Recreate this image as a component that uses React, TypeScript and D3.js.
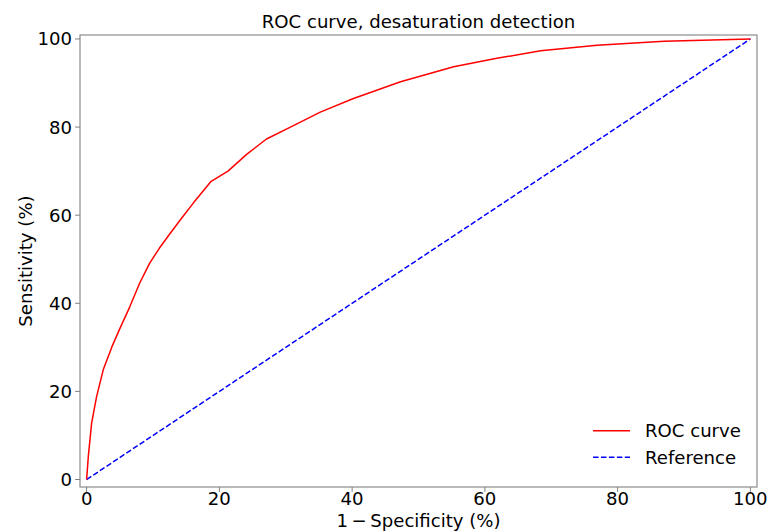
import React from "react";
import * as d3 from "d3";

const fpr = [0, 0.25, 0.75, 1.5, 2.5, 3.8, 4.9, 6.5, 8, 9.5, 11, 12.6, 14.3, 16.1, 18.7, 21.3, 24.1, 27.1, 30.7, 35.2, 40.2, 47.3, 55.3, 61.8, 68.4, 76.9, 87, 100];
const tpr = [0, 5.2, 12.8, 18.8, 24.9, 30.1, 33.9, 39.2, 44.6, 49.1, 52.6, 55.9, 59.3, 62.8, 67.6, 70, 73.8, 77.3, 80, 83.4, 86.5, 90.3, 93.7, 95.6, 97.3, 98.6, 99.5, 100];
const refX = [0, 100];
const refY = [0, 100];
const xTicks = [0, 20, 40, 60, 80, 100];
const yTicks = [0, 20, 40, 60, 80, 100];
const legendLabels = ["ROC curve", "Reference"];

const W = 769;
const H = 532;
const left = 80, right = 757, top = 35, bottom = 487;
const FONT = "DejaVu Sans, sans-serif";
const FS = 18.1;

export default function App() {
  const x = d3.scaleLinear().domain([-1, 101]).range([left, right]);
  const y = d3.scaleLinear().domain([-1.7, 100.9]).range([bottom, top]);
  const line = d3.line<[number, number]>().x(d => x(d[0])).y(d => y(d[1]));
  const roc = line(fpr.map((v, i) => [v, tpr[i]] as [number, number])) || "";
  const ref = line(refX.map((v, i) => [v, refY[i]] as [number, number])) || "";
  const cx = (left + right) / 2;
  const cy = (top + bottom) / 2;
  return (
    <svg width={W} height={H} style={{ position: "absolute", left: 0, top: 0, background: "#fff" }} fontFamily={FONT}>
      <rect x={0} y={0} width={W} height={H} fill="#fff" />
      <defs>
        <clipPath id="clip">
          <rect x={left} y={top} width={right - left} height={bottom - top} />
        </clipPath>
      </defs>
      <g clipPath="url(#clip)">
        <path d={ref} fill="none" stroke="#0000ff" strokeWidth={1.5} strokeDasharray="5.55,2.4" />
        <path d={roc} fill="none" stroke="#ff0000" strokeWidth={1.5} strokeLinejoin="round" />
      </g>
      <rect x={left} y={top} width={right - left} height={bottom - top} fill="none" stroke="#808080" strokeWidth={1.1} />
      {xTicks.map(t => (
        <g key={"x" + t}>
          <line x1={x(t)} x2={x(t)} y1={bottom} y2={bottom + 4.9} stroke="#808080" strokeWidth={1} />
          <text x={x(t)} y={504.5} textAnchor="middle" fontSize={FS} fill="#000">{t}</text>
        </g>
      ))}
      {yTicks.map(t => (
        <g key={"y" + t}>
          <line x1={left - 4.9} x2={left} y1={y(t)} y2={y(t)} stroke="#808080" strokeWidth={1} />
          <text x={left - 8} y={y(t)} dy="0.36em" textAnchor="end" fontSize={FS} fill="#000">{t}</text>
        </g>
      ))}
      <text x={cx} y={28} textAnchor="middle" fontSize={FS} fill="#000">ROC curve, desaturation detection</text>
      <text x={cx} y={526.5} textAnchor="middle" fontSize={FS} fill="#000">1{"\u2009\u2212\u2009"}Specificity (%)</text>
      <text transform={`translate(31.5,${cy}) rotate(-90)`} textAnchor="middle" fontSize={FS} fill="#000">Sensitivity (%)</text>
      <g>
        <line x1={593} x2={630} y1={430.7} y2={430.7} stroke="#ff0000" strokeWidth={1.5} />
        <text x={645} y={430.7} dy="0.36em" fontSize={FS} fill="#000">{legendLabels[0]}</text>
        <line x1={593} x2={630} y1={457.3} y2={457.3} stroke="#0000ff" strokeWidth={1.5} strokeDasharray="5.55,2.4" />
        <text x={645} y={457.3} dy="0.36em" fontSize={FS} fill="#000">{legendLabels[1]}</text>
      </g>
    </svg>
  );
}
